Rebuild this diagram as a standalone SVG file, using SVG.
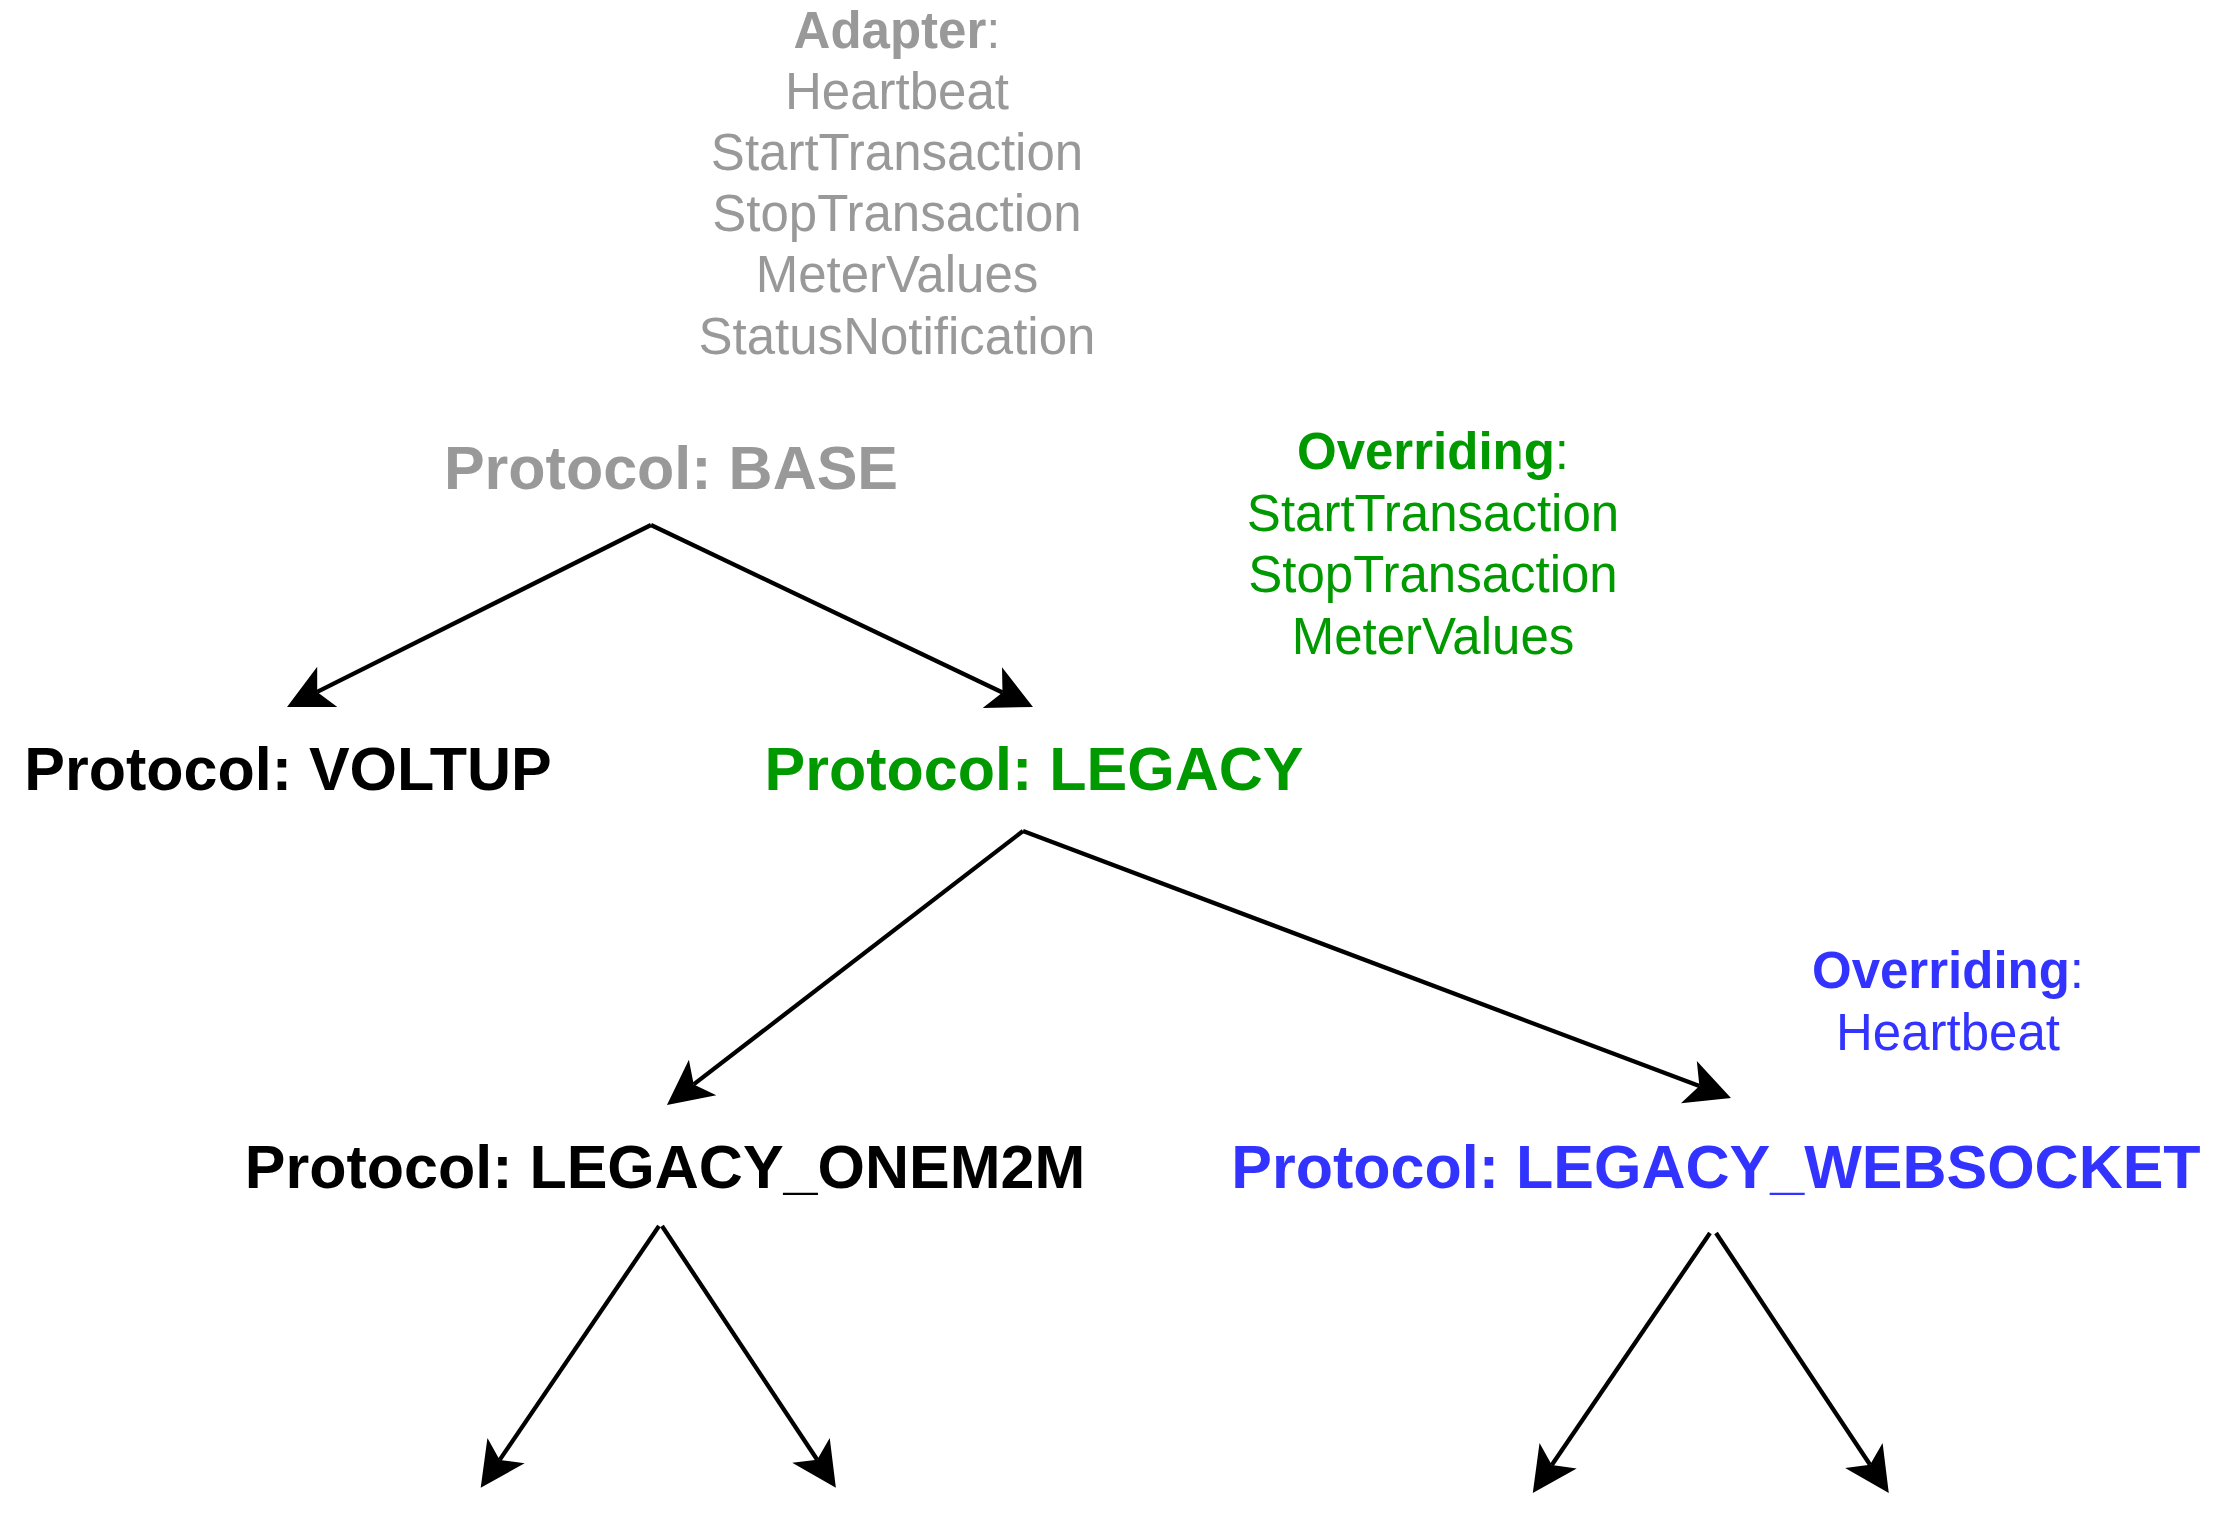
<svg xmlns="http://www.w3.org/2000/svg" width="2222" height="1516" viewBox="0 0 2222 1516">
  <style>
    text { font-family: "Liberation Sans", Arial, Helvetica, sans-serif; text-anchor: middle; }
    .lbl { font-size: 61px; font-weight: bold; }
    .note { font-size: 51px; }
    .b { font-weight: bold; }
    .gray { fill: #999999; }
    .green { fill: #009900; }
    .blue { fill: #3333FF; }
    .black { fill: #000000; }
    .edge { stroke: #000000; stroke-width: 4.3; fill: none; marker-end: url(#arrow); }
  </style>
  <defs>
    <marker id="arrow" markerUnits="userSpaceOnUse" markerWidth="46" markerHeight="46" viewBox="0 -23 46 46" refX="11.25" refY="0" orient="auto" overflow="visible">
      <path d="M45,0 L0,-22.5 L11.25,0 L0,22.5 Z" fill="#000000"/>
    </marker>
  </defs>
  <rect width="2222" height="1516" fill="#ffffff"/>

  <g id="adapter-note">
    <text class="note gray" x="897" y="47.5"><tspan class="b">Adapter</tspan>:</text>
    <text class="note gray" x="897" y="108.7">Heartbeat</text>
    <text class="note gray" x="897" y="169.9">StartTransaction</text>
    <text class="note gray" x="897" y="231.1">StopTransaction</text>
    <text class="note gray" x="897" y="292.3">MeterValues</text>
    <text class="note gray" x="897" y="353.5">StatusNotification</text>
  </g>

  <g id="legacy-note">
    <text class="note green" x="1433" y="469"><tspan class="b">Overriding</tspan>:</text>
    <text class="note green" x="1433" y="530.5">StartTransaction</text>
    <text class="note green" x="1433" y="592">StopTransaction</text>
    <text class="note green" x="1433" y="653.5">MeterValues</text>
  </g>

  <g id="websocket-note">
    <text class="note blue" x="1948" y="988"><tspan class="b">Overriding</tspan>:</text>
    <text class="note blue" x="1948" y="1049.5">Heartbeat</text>
  </g>

  <g id="node-base">
    <text class="lbl gray" x="671" y="489">Protocol: BASE</text>
  </g>
  <g id="node-voltup">
    <text class="lbl black" x="288" y="790">Protocol: VOLTUP</text>
  </g>
  <g id="node-legacy">
    <text class="lbl green" x="1034" y="790">Protocol: LEGACY</text>
  </g>
  <g id="node-legacy-onem2m">
    <text class="lbl black" x="665" y="1188">Protocol: LEGACY_ONEM2M</text>
  </g>
  <g id="node-legacy-websocket">
    <text class="lbl blue" x="1716" y="1188">Protocol: LEGACY_WEBSOCKET</text>
  </g>

  <g id="connectors">
    <path class="edge" d="M651,525 L317.2,691.9"/>
    <path class="edge" d="M651,525 L1002.5,692.5"/>
    <path class="edge" d="M1023,831 L693.7,1084.4"/>
    <path class="edge" d="M1023,831 L1699.4,1086.1"/>
    <path class="edge" d="M659,1226 L499.7,1459.9"/>
    <path class="edge" d="M662,1226 L817.2,1459.7"/>
    <path class="edge" d="M1710,1233 L1551.8,1465"/>
    <path class="edge" d="M1716,1233 L1870.1,1464.8"/>
  </g>
</svg>
